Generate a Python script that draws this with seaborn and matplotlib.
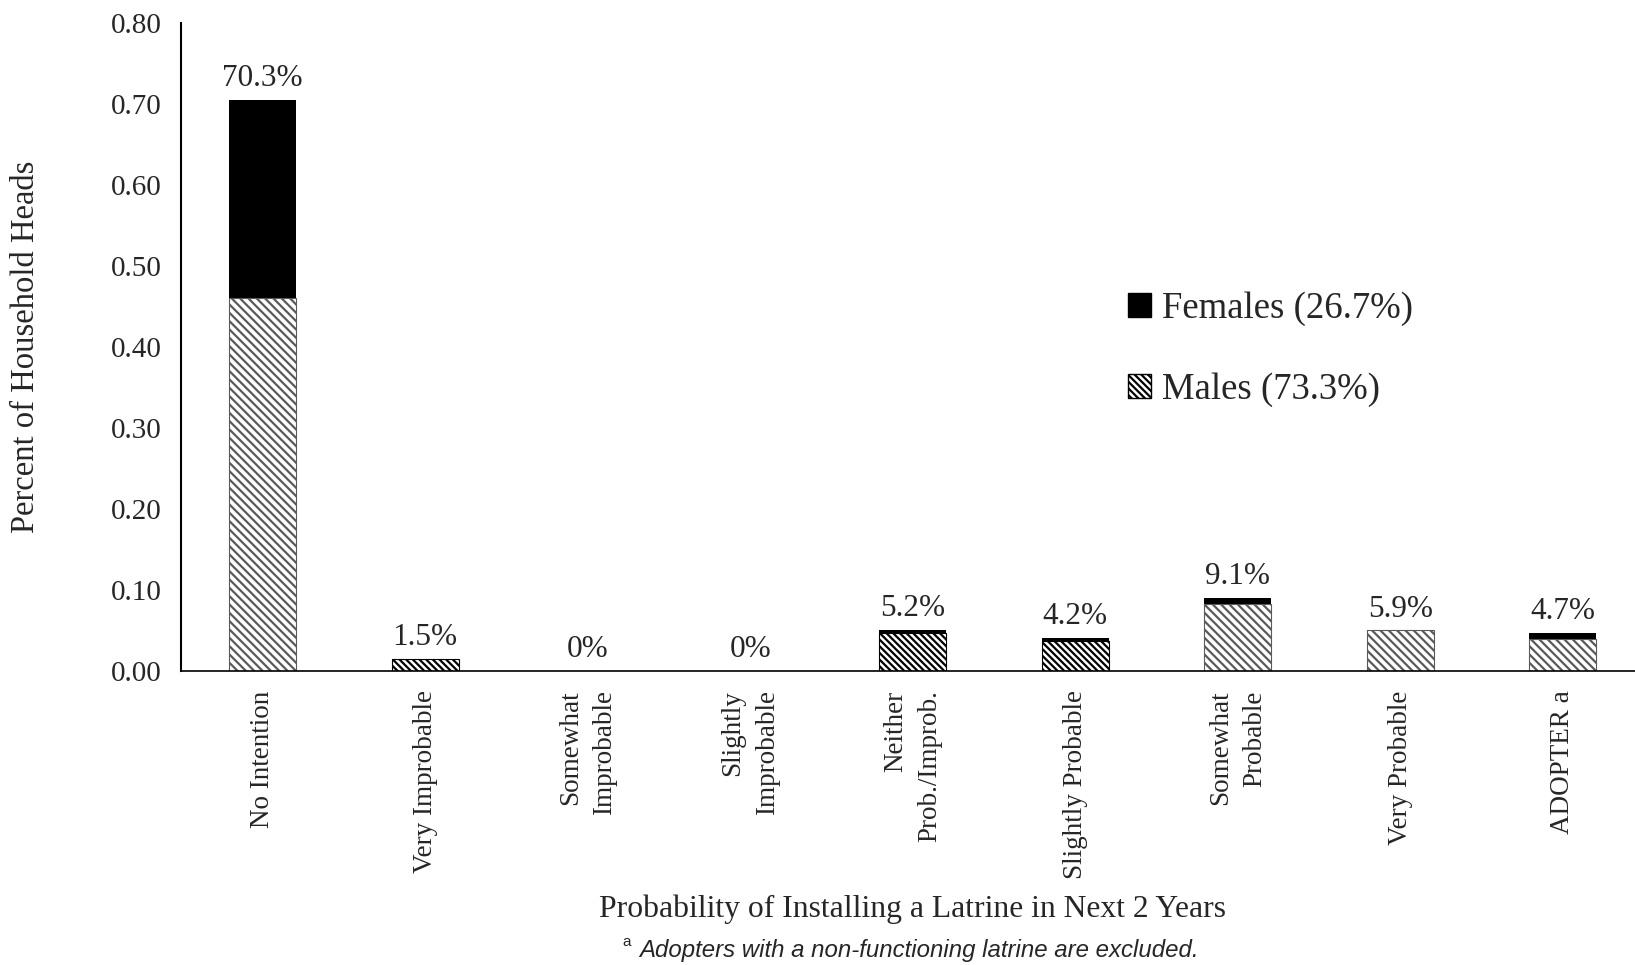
import matplotlib
matplotlib.use("Agg")
import matplotlib.pyplot as plt
import matplotlib.patches as mpatches
import seaborn as sns

# Data
categories = ["No Intention", "Very Improbable", "Somewhat\nImprobable", "Slightly\nImprobable",
              "Neither\nProb./Improb.", "Slightly Probable", "Somewhat\nProbable",
              "Very Probable", "ADOPTER a"]
males = [0.460, 0.015, 0.0, 0.0, 0.047, 0.037, 0.083, 0.050, 0.040]
females = [0.245, 0.0, 0.0, 0.0, 0.004, 0.004, 0.007, 0.0, 0.007]
bar_labels = ["70.3%", "1.5%", "0%", "0%", "5.2%", "4.2%", "9.1%", "5.9%", "4.7%"]
# which bars use the dense black hatch
dense_hatch = [False, True, False, False, True, True, False, False, False]

totals = [m + f for m, f in zip(males, females)]

sns.set_style("white")
plt.rcParams['font.family'] = ['Liberation Serif', 'DejaVu Serif']
plt.rcParams['hatch.linewidth'] = 1.6

fig = plt.figure(figsize=(16.35, 9.65), dpi=100)
ax = fig.add_axes([0.111, 0.3047, 0.8945, 0.6715])

# females on top: draw totals in black, then males over them
sns.barplot(x=categories, y=totals, color="black", width=0.41, saturation=1, ax=ax)
n = len(ax.patches)
sns.barplot(x=categories, y=males, color="white", width=0.41, saturation=1, ax=ax)
for i, p in enumerate(ax.patches[n:]):
    if dense_hatch[i]:
        p.set_hatch("\\\\\\\\\\")
        p.set_edgecolor("black")
    else:
        p.set_hatch("\\\\\\\\")
        p.set_edgecolor("#5a5a5a")
    p.set_linewidth(0.8)
for p in ax.patches[:n]:
    p.set_edgecolor("black")
    p.set_linewidth(0)

for i, (t, lab) in enumerate(zip(totals, bar_labels)):
    ax.annotate(lab, (i, t), xytext=(0, 5), textcoords="offset points",
                ha="center", va="bottom", fontsize=22.5)

ax.set_ylim(0, 0.8)
ax.set_xlim(-0.5, 8.5)
ax.set_yticks([i / 10 for i in range(9)])
ax.set_yticklabels([f"{i / 10:.2f}" for i in range(9)], fontsize=21)
ax.set_xticks(range(len(categories)))
ax.set_xticklabels(categories, rotation=90, fontsize=19.5, va="top", ha="center",
                   multialignment="right", linespacing=1.5)
ax.set_xticks([i - 0.5 for i in range(len(categories) + 1)], minor=True)
ax.tick_params(axis="x", which="major", length=0, pad=14)
ax.tick_params(axis="x", which="minor", length=8, width=1, color="#444444", direction="out")
ax.tick_params(axis="y", length=7, width=1.5, direction="out", color="black", pad=7)

for side in ["top", "right"]:
    ax.spines[side].set_visible(False)
ax.spines["left"].set_linewidth(1.5)
ax.spines["bottom"].set_linewidth(1.2)
ax.spines["left"].set_color("black")
ax.spines["bottom"].set_color("black")

ax.set_ylabel("Percent of Household Heads", fontsize=23.5)
ax.yaxis.set_label_coords(-0.0958, 0.5)
ax.set_xlabel("")
fig.text(0.558, 0.058, "Probability of Installing a Latrine in Next 2 Years",
         ha="center", va="center", fontsize=22.8)
fig.text(0.3805, 0.024, "a", ha="left", va="center", fontsize=11, family="Liberation Sans")
fig.text(0.391, 0.015, "Adopters with a non-functioning latrine are excluded.",
         ha="left", va="center", fontsize=17.3, style="italic", family="Liberation Sans")

handles = [mpatches.Patch(facecolor="black", edgecolor="black", label="Females (26.7%)"),
           mpatches.Patch(facecolor="white", edgecolor="black", hatch="\\\\\\\\\\", label="Males (73.3%)")]
ax.legend(handles=handles, loc="center left", bbox_to_anchor=(0.690, 0.638),
          bbox_transform=fig.transFigure, frameon=False, fontsize=26.5,
          handlelength=0.63, handleheight=0.63, handletextpad=0.3, labelspacing=1.25,
          borderpad=0, borderaxespad=0)

fig.savefig("out.png", dpi=100)
